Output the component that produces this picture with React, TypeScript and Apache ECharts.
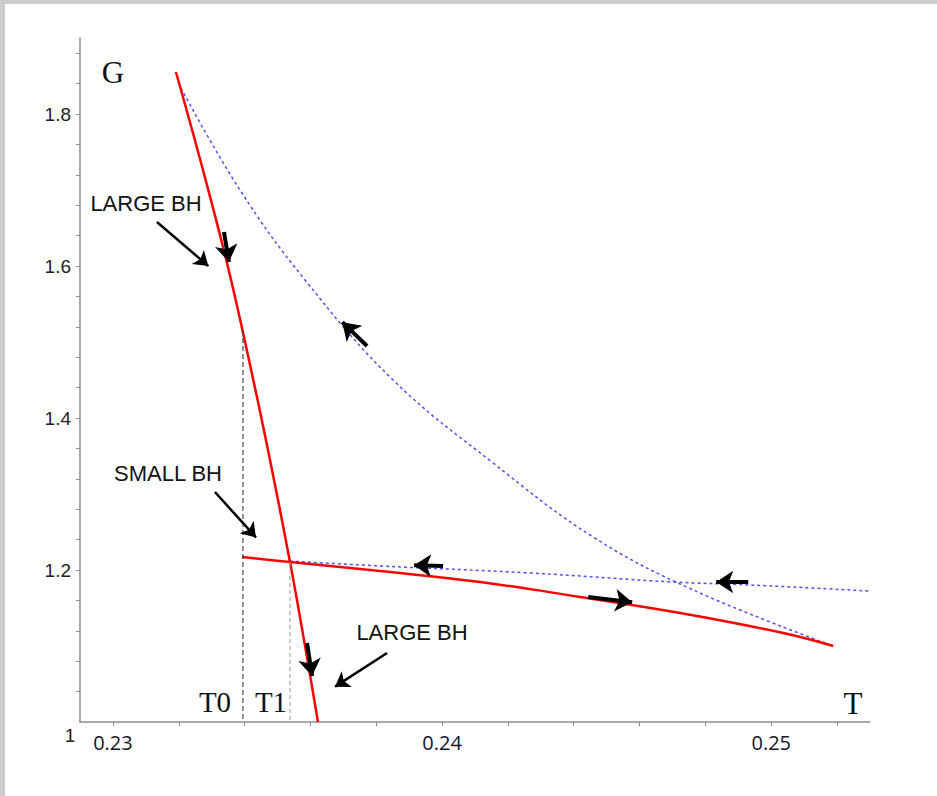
import React, { useEffect, useRef } from "react";
import * as echarts from "echarts";

// axis ticks and labels
const xTickValues = [0.23, 0.232, 0.234, 0.236, 0.238, 0.24, 0.242, 0.244, 0.246, 0.248, 0.25, 0.252];
const xLabelValues = [0.23, 0.24, 0.25];
const yTickValues = [1.04, 1.08, 1.12, 1.16, 1.2, 1.24, 1.28, 1.32, 1.36, 1.4, 1.44, 1.48, 1.52, 1.56, 1.6, 1.64, 1.68, 1.72, 1.76, 1.8, 1.84, 1.88];
const yLabelValues = [1.2, 1.4, 1.6, 1.8];

// red solid: large black hole branch
const largeT = [0.231915, 0.232736, 0.233495, 0.234134, 0.234711, 0.23538, 0.235805, 0.236231];
const largeG = [1.8553, 1.7263, 1.5987, 1.4763, 1.3579, 1.2105, 1.1079, 1.0];

// red solid: small black hole branch
const smallT = [0.233921, 0.23538, 0.238116, 0.241155, 0.244195, 0.247234, 0.250365, 0.251884];
const smallG = [1.2171, 1.2105, 1.1987, 1.1842, 1.1645, 1.1434, 1.1171, 1.1];

// blue dashed: upper unstable branch
const upperT = [0.232067, 0.23386, 0.235836, 0.238511, 0.24155, 0.24459, 0.247629, 0.251884];
const upperG = [1.8342, 1.7, 1.5816, 1.45, 1.3408, 1.2434, 1.1737, 1.1];

// blue dashed: nearly flat branch
const flatT = [0.23538, 0.238116, 0.242675, 0.247021, 0.249362, 0.252948];
const flatG = [1.2118, 1.2053, 1.1961, 1.1842, 1.1803, 1.1724];

// transition temperatures
const T0 = 0.23395;
const T0top = 1.5158;
const T1 = 0.23538;
const T1top = 1.2105;

// arrows: [tailT, tailG, tipT, tipG]
const flowArrows = [
  [0.233374, 1.6447, 0.233526, 1.6053],
  [0.23772, 1.4947, 0.23697, 1.5261],
  [0.24003, 1.2053, 0.239149, 1.2063],
  [0.244438, 1.1645, 0.245775, 1.1575],
  [0.249301, 1.1842, 0.248328, 1.1842],
  [0.235897, 1.1039, 0.236052, 1.0604],
];
const pointerArrows = [
  [0.231337, 1.6579, 0.2329, 1.5999],
  [0.2331, 1.3026, 0.234347, 1.2428],
  [0.238328, 1.0908, 0.236748, 1.0465],
];

const zip = (a: number[], b: number[]) => a.map((v, i) => [v, b[i]]);

export default function App() {
  const ref = useRef<HTMLDivElement>(null);
  useEffect(() => {
    if (!ref.current) return;
    const chart = echarts.init(ref.current, null, { renderer: "svg" });
    const sans = "'Liberation Sans', Arial, sans-serif";
    const serif = "'Liberation Serif', 'Times New Roman', serif";
    const narrow = "'Liberation Sans Narrow', 'Liberation Sans', sans-serif";
    chart.setOption({
      animation: false,
      backgroundColor: "#ffffff",
      grid: { left: 80, top: 38, right: 67, bottom: 74 },
      xAxis: {
        type: "value",
        min: 0.229,
        max: 0.253,
        axisLine: { show: true, lineStyle: { color: "#8c8c8c", width: 1.5 } },
        axisTick: { show: true, length: 4, customValues: xTickValues, lineStyle: { color: "#8c8c8c", width: 1 } },
        axisLabel: {
          show: true,
          customValues: xLabelValues,
          formatter: (v: number) => v.toFixed(2),
          margin: 10,
          fontSize: 20,
          fontFamily: "'Open Sans', sans-serif",
          color: "#141428",
        },
        splitLine: { show: false },
      },
      yAxis: {
        type: "value",
        min: 1,
        max: 1.9,
        axisLine: { show: true, lineStyle: { color: "#8c8c8c", width: 1.5 } },
        axisTick: { show: true, length: 4, customValues: yTickValues, lineStyle: { color: "#8c8c8c", width: 1 } },
        axisLabel: {
          show: true,
          customValues: yLabelValues,
          formatter: (v: number) => v.toFixed(1),
          margin: 9,
          fontSize: 19,
          fontFamily: narrow,
          color: "#222",
        },
        splitLine: { show: false },
      },
      series: [
        {
          type: "line",
          data: zip(upperT, upperG),
          smooth: 0.4,
          showSymbol: false,
          lineStyle: { color: "#4f4ff5", width: 1.5, type: [3, 3] },
        },
        {
          type: "line",
          data: zip(flatT, flatG),
          smooth: 0.4,
          showSymbol: false,
          lineStyle: { color: "#4f4ff5", width: 1.5, type: [3, 3] },
        },
        {
          type: "line",
          data: zip(largeT, largeG),
          smooth: 0.4,
          showSymbol: false,
          lineStyle: { color: "#ff0000", width: 2.5 },
        },
        {
          type: "line",
          data: zip(smallT, smallG),
          smooth: 0.4,
          showSymbol: false,
          lineStyle: { color: "#ff0000", width: 2.5 },
        },
        {
          type: "line",
          data: [[T0, T0top], [T0, 1]],
          showSymbol: false,
          lineStyle: { color: "#444", width: 1.2, type: [5, 3] },
        },
        {
          type: "line",
          data: [[T1, T1top], [T1, 1]],
          showSymbol: false,
          lineStyle: { color: "#aaa", width: 1.2, type: [4, 3] },
        },
        {
          type: "lines",
          coordinateSystem: "cartesian2d",
          symbol: ["none", "arrow"],
          symbolSize: 17,
          lineStyle: { color: "#000", width: 4, opacity: 1, curveness: 0 },
          data: flowArrows.map((a) => ({ coords: [[a[0], a[1]], [a[2], a[3]]] })),
          z: 5,
        },
        {
          type: "lines",
          coordinateSystem: "cartesian2d",
          symbol: ["none", "arrow"],
          symbolSize: 14,
          lineStyle: { color: "#000", width: 2.5, opacity: 1, curveness: 0 },
          data: pointerArrows.map((a) => ({ coords: [[a[0], a[1]], [a[2], a[3]]] })),
          z: 5,
        },
      ],
      graphic: [
        { type: "rect", shape: { x: 0, y: 0, width: 937, height: 4 }, style: { fill: "#cccccc" }, silent: true },
        { type: "rect", shape: { x: 0, y: 0, width: 5, height: 796 }, style: { fill: "#cccccc" }, silent: true },
        { type: "text", x: 113, y: 72, style: { text: "G", fontSize: 31, fontFamily: serif, fill: "#111", align: "center", verticalAlign: "middle" } },
        { type: "text", x: 853, y: 703, style: { text: "T", fontSize: 31, fontFamily: serif, fill: "#111", align: "center", verticalAlign: "middle" } },
        { type: "text", x: 215, y: 702, style: { text: "T0", fontSize: 29, fontFamily: serif, fill: "#111", align: "center", verticalAlign: "middle" } },
        { type: "text", x: 271, y: 702, style: { text: "T1", fontSize: 29, fontFamily: serif, fill: "#111", align: "center", verticalAlign: "middle" } },
        { type: "text", x: 70, y: 735, style: { text: "1", fontSize: 19, fontFamily: narrow, fill: "#222", align: "center", verticalAlign: "middle" } },
        { type: "text", x: 146, y: 203, style: { text: "LARGE BH", fontSize: 22, fontFamily: sans, fill: "#111", align: "center", verticalAlign: "middle" } },
        { type: "text", x: 168, y: 473, style: { text: "SMALL BH", fontSize: 22, fontFamily: sans, fill: "#111", align: "center", verticalAlign: "middle" } },
        { type: "text", x: 412, y: 632, style: { text: "LARGE BH", fontSize: 22, fontFamily: sans, fill: "#111", align: "center", verticalAlign: "middle" } },
      ],
    });
    return () => chart.dispose();
  }, []);
  return (
    <div
      ref={ref}
      style={{ position: "fixed", left: 0, top: 0, width: 937, height: 796, background: "#fff" }}
    />
  );
}
